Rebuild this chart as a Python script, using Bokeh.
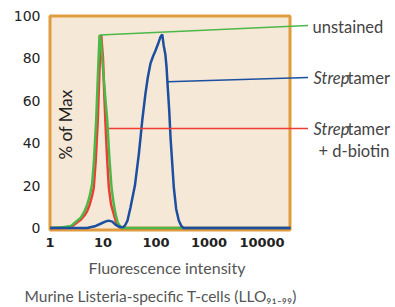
import math
from bokeh.plotting import figure
from bokeh.models import Range1d, FixedTicker, CustomJSTickFormatter, Label, Title
from bokeh.embed import file_html
from bokeh.resources import INLINE

# ---- data ----
green_x = [1, 1.6, 2.5, 3.85, 4.5, 5.03, 5.6, 6.25, 6.8, 7.44, 8.1, 8.6, 9.2, 10.0, 11.0, 12.0,
           13.2, 14.5, 15.8, 17.1, 19, 22, 34500]
green_y = [0, 0.3, 1, 5, 8, 11, 15, 21, 33, 51, 75, 91, 88, 75, 62, 51, 33, 19, 12, 7, 2.5, 0, 0]

red_x = [1, 1.6, 2.5, 3.85, 4.5, 5.03, 5.6, 6.2, 6.7, 7.3, 7.98, 8.6, 9.25, 10.0, 10.5, 11.1,
         12.0, 12.9, 14.2, 15.8, 17.5, 20, 22, 34500]
red_y = [0, 0, 0.5, 4, 6, 8, 11, 15, 19, 32, 51, 75, 91, 80, 65, 50, 32, 19, 11, 7, 3, 0.5, 0, 0]

blue_x = [1, 5.0, 7, 9, 11, 12.7, 15, 17.3, 20, 23.5, 26, 29, 33, 40, 47.5, 55, 63, 70, 78.5, 88,
          98, 110, 121, 131, 140, 150, 158, 167, 178, 188, 203, 217, 240, 269, 300, 330, 34500]
blue_y = [0, 0, 0.8, 2, 3, 3.5, 3, 1.5, 0.7, 0.3, 1.2, 3.5, 9.7, 20, 35, 50.7, 63, 71, 77.5, 81,
          83.7, 87, 90, 91.3, 86, 82, 76, 66, 55, 42.7, 30, 19, 9, 3.5, 1, 0, 0]

x_ticks = [1, 10, 100, 1000, 10000]
y_ticks = [0, 20, 40, 60, 80, 100]

# leader lines: start point on curve, end y at the legend text
leader_x0 = [8.6, 165, 13.0]
leader_y0 = [91, 69, 46.9]
leader_y1 = [95.5, 71, 46.9]

GREEN, RED, BLUE = "#4CB848", "#EE3B33", "#1C4FA0"
leader_colors = [GREEN, BLUE, RED]
ORANGE, BEIGE = "#E29C40", "#F6E8D6"

# ---- geometry (page px) ----
W, H = 395, 307
ML, MR, MT, MB = 46, 0, 10, 73
PX_DEC = 53.0           # pixels per decade
X1_PAGE = 49.5          # page x of value 1
fw = W - ML - MR
x_start = 10 ** (-(X1_PAGE - ML) / PX_DEC)
x_end = x_start * 10 ** (fw / PX_DEC)

PX_UNIT = 2.12
Y0_PAGE = 227.5
fh = H - MT - MB
frame_b = MT + fh
y_start = -(frame_b - Y0_PAGE) / PX_UNIT
y_end = y_start + fh / PX_UNIT


def px2x(px):
    return 10 ** ((px - X1_PAGE) / PX_DEC)


def py2y(py):
    return (Y0_PAGE - py) / PX_UNIT


p = figure(width=W, height=H, x_axis_type="log", output_backend="svg",
           toolbar_location=None, x_range=Range1d(x_start, x_end),
           y_range=Range1d(y_start, y_end),
           min_border_left=ML, min_border_right=MR, min_border_top=MT,
           min_border_bottom=MB)
p.outline_line_color = None
p.background_fill_color = "white"
p.border_fill_color = "white"
p.grid.visible = False

# the orange framed box
p.quad(left=[1], right=[px2x(289.5)], bottom=[py2y(229.5)], top=[100],
       fill_color=BEIGE, line_color=ORANGE, line_width=3, level="underlay")

# curves
p.line(red_x, red_y, line_color=RED, line_width=2.5)
p.line(green_x, green_y, line_color=GREEN, line_width=2.5)
p.line(blue_x, blue_y, line_color=BLUE, line_width=2.5)

# leader lines
x1_end = px2x(307.5)
p.segment(x0=leader_x0, y0=leader_y0, x1=[x1_end] * 3, y1=leader_y1,
          line_color=leader_colors, line_width=1.5)

# axes
for ax in (p.xaxis[0], p.yaxis[0]):
    ax.axis_line_color = None
    ax.major_tick_line_color = None
    ax.minor_tick_line_color = None
    ax.major_tick_out = 0
    ax.major_tick_in = 0
    ax.minor_tick_out = 0
    ax.major_label_text_font = "DejaVu Sans"
    ax.major_label_text_color = "#222222"

p.xaxis.ticker = FixedTicker(ticks=x_ticks)
p.xaxis.formatter = CustomJSTickFormatter(code="return Math.round(tick).toString();")
p.xaxis.major_label_text_font_size = "13px"
p.xaxis.major_label_text_font_style = "bold"
p.xaxis.major_label_standoff = 3

p.yaxis.ticker = FixedTicker(ticks=y_ticks)
p.yaxis.major_label_text_font_size = "14px"
p.yaxis.major_label_text_font_style = "normal"
p.yaxis.major_label_standoff = 6

# y label inside the box
p.add_layout(Label(x=1, y=py2y(124), x_offset=65 - X1_PAGE, text="% of Max",
                   angle=math.pi / 2, text_align="center", text_baseline="middle",
                   text_font="Lato", text_font_size="17px", text_color="#222222"))

# legend texts
LEG = dict(text_font="Lato", text_font_size="16.5px", text_color="#444444",
           text_baseline="middle")
p.add_layout(Label(x=1, y=py2y(26.5), x_offset=312 - X1_PAGE, text="unstained", **LEG))
for py in (77, 128):
    p.add_layout(Label(x=1, y=py2y(py), x_offset=313 - X1_PAGE, text="Strep",
                       text_font_style="italic", **LEG))
    p.add_layout(Label(x=1, y=py2y(py), x_offset=347 - X1_PAGE, text="tamer", **LEG))
p.add_layout(Label(x=1, y=py2y(150), x_offset=318 - X1_PAGE, text="+ d-biotin", **LEG))

# x axis title: two titles below the axis
TIT = dict(text_font="Lato", text_color="#555555", text_font_style="normal", align="left")
p.add_layout(Title(text="Fluorescence intensity", offset=88 - ML, standoff=12,
                   text_font_size="16px", **TIT), "below")
p.add_layout(Title(text="Murine Listeria-specific T-cells (LLO\u2089\u2081\u208b\u2089\u2089)",
                   offset=24 - ML, standoff=5, text_font_size="15.5px", **TIT), "below")

open("out.html", "w").write(file_html(p, INLINE))
